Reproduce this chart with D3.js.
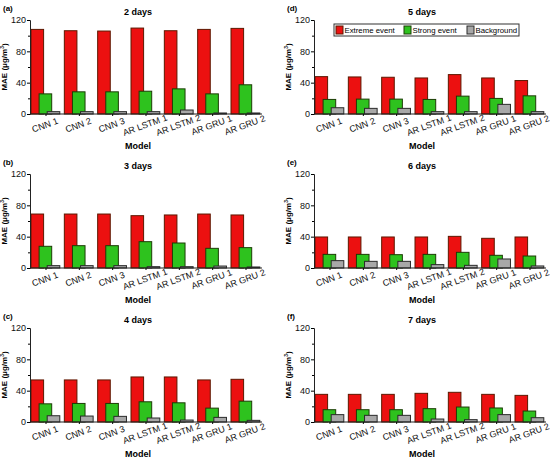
<!DOCTYPE html>
<meta charset="utf-8">
<head>
    <script type="text/javascript" src="https://cdn.jsdelivr.net/npm/d3@7"></script>
    <style>
        body { margin: 0; background: #fff; }
        text { font-family: "Liberation Sans", Arial, sans-serif; }
    </style>
    <title>MAE by model</title>
</head>
<body>
<div id="chart"></div>
<script type="text/javascript">

    // data
    var models = ["CNN 1", "CNN 2", "CNN 3", "AR LSTM 1", "AR LSTM 2", "AR GRU 1", "AR GRU 2"];
    var series = ["Extreme event", "Strong event", "Background"];
    var panelTags = ["(a)", "(b)", "(c)", "(d)", "(e)", "(f)"];
    var panelTitles = ["2 days", "3 days", "4 days", "5 days", "6 days", "7 days"];
    var yTicks = [0, 40, 80, 120];
    var yMinor = [20, 60, 100];

    var extreme = [
        [108, 106.3, 105.9, 109.7, 106.3, 108, 109.3],
        [68.9, 68.9, 68.9, 66.8, 67.7, 68.9, 67.7],
        [53.7, 53.7, 53.7, 57.5, 57.5, 53.7, 54.5],
        [47.7, 47.3, 46.9, 46, 50.3, 46, 42.7],
        [39.6, 39.6, 39.6, 39.6, 40.4, 37.9, 39.6],
        [35.3, 35.3, 35.3, 36.6, 37.9, 35.3, 34]
    ];
    var strong = [
        [25.7, 28.3, 28.3, 29.1, 32.1, 25.7, 37.3],
        [27.7, 28.5, 28.5, 33.6, 31.9, 25.1, 26],
        [23.2, 23.7, 23.7, 25.8, 24.5, 17.7, 26.6],
        [18.6, 19, 19, 18.6, 22.8, 19.9, 23.2],
        [17.4, 17.4, 17, 17.4, 20, 16.2, 15.3],
        [15.7, 15.7, 15.7, 17, 19.1, 17.9, 14]
    ];
    var background = [
        [3, 3, 3, 3, 5.1, 1.3, 1.3],
        [3, 3, 3, 1.7, 1.7, 2.5, 1.3],
        [8, 7.6, 7.2, 5.1, 2.5, 5.9, 2.1],
        [8, 7.2, 7.2, 3, 3, 12.3, 3],
        [9.4, 8.5, 8.5, 4.3, 3.4, 11.5, 2.6],
        [9.4, 8.5, 8.5, 3.8, 3, 9.4, 5.5]
    ];

    var fills = ["#ec1010", "#2ec21e", "#a8a8a8"];
    var strokes = ["#5c1800", "#1c3c06", "#2a2a2a"];

    var w = 550, h = 463;
    var svg = d3.select("#chart").append("svg")
                .attr("width", w)
                .attr("height", h);

    var colX = [30, 314];
    var rowTop = [20, 174, 328];
    var plotW = 232, plotH = 94;

    for (var p = 0; p < 6; p++) {
        var col = Math.floor(p / 3), row = p % 3;
        var ox = colX[col], oy = rowTop[row];
        var g = svg.append("g").attr("transform", "translate(" + ox + "," + oy + ")");

        var x = d3.scaleBand().domain(models).range([1, plotW - 1]).paddingInner(0.1).paddingOuter(0);
        var y = d3.scaleLinear().domain([0, 120]).range([plotH, 0]);

        var bw = x.bandwidth() * 0.42;
        var off = x.bandwidth() * 0.27;
        var vals = [extreme[p], strong[p], background[p]];

        for (var s = 0; s < 3; s++) {
            g.selectAll(".bar" + s)
             .data(vals[s])
             .enter()
             .append("rect")
             .attr("x", function(d, i) { return x(models[i]) + s * off; })
             .attr("y", function(d) { return y(d); })
             .attr("width", bw)
             .attr("height", function(d) { return y(0) - y(d); })
             .attr("fill", fills[s])
             .attr("stroke", strokes[s])
             .attr("stroke-width", 1);
        }

        // y axis
        var yAxis = g.append("g").call(d3.axisLeft(y).tickValues(yTicks).tickSize(3).tickPadding(1));
        yAxis.selectAll("text").style("font-size", "9px").attr("fill", "#111");
        yAxis.select(".domain").attr("stroke", "#222");
        g.append("g").call(d3.axisLeft(y).tickValues(yMinor).tickSize(2).tickFormat(""))
         .select(".domain").remove();

        // x axis
        var xAxis = g.append("g")
                     .attr("transform", "translate(0," + plotH + ")")
                     .call(d3.axisBottom(x).tickSize(2).tickSizeOuter(0).tickFormat(""));
        xAxis.select(".domain").attr("stroke", "#222").attr("d", "M0,0H" + plotW);

        g.selectAll(".xlab")
         .data(models)
         .enter()
         .append("text")
         .attr("transform", function(d) {
             return "translate(" + (x(d) + x.bandwidth() / 2) + "," + (plotH + 14) + ") rotate(-20)";
         })
         .attr("text-anchor", "middle")
         .style("font-size", "9px")
         .attr("fill", "#111")
         .text(function(d) { return d; });

        // titles and labels
        g.append("text")
         .attr("x", plotW / 2 - 8).attr("y", -5)
         .attr("text-anchor", "middle")
         .style("font-size", "9px").style("font-weight", "bold")
         .text(panelTitles[p]);

        g.append("text")
         .attr("x", -27).attr("y", -9)
         .style("font-size", "8px").style("font-weight", "bold")
         .text(panelTags[p]);

        g.append("text")
         .attr("x", plotW / 2 - 8).attr("y", plotH + 35)
         .attr("text-anchor", "middle")
         .style("font-size", "9px").style("font-weight", "bold")
         .text("Model");

        g.append("text")
         .attr("transform", "translate(-23," + (plotH / 2) + ") rotate(-90)")
         .attr("text-anchor", "middle")
         .style("font-size", "8px").style("font-weight", "bold")
         .html("MAE (\u03bcg/m<tspan dy='-3' font-size='5px'>3</tspan><tspan dy='3'>)</tspan>");

        // legend only in panel (d)
        if (p === 3) {
            var lg = g.append("g").attr("transform", "translate(20,4)");
            lg.append("rect")
              .attr("x", 0).attr("y", 0).attr("width", 185).attr("height", 12)
              .attr("fill", "#fff").attr("stroke", "#333").attr("stroke-width", 1);
            var lx = [2, 70, 133];
            for (var k = 0; k < 3; k++) {
                lg.append("rect")
                  .attr("x", lx[k]).attr("y", 2).attr("width", 7).attr("height", 8)
                  .attr("fill", fills[k]).attr("stroke", strokes[k]);
                lg.append("text")
                  .attr("x", lx[k] + 8.5).attr("y", 9.3)
                  .style("font-size", "7.8px")
                  .text(series[k]);
            }
        }
    }

</script>
</body>
</html>
